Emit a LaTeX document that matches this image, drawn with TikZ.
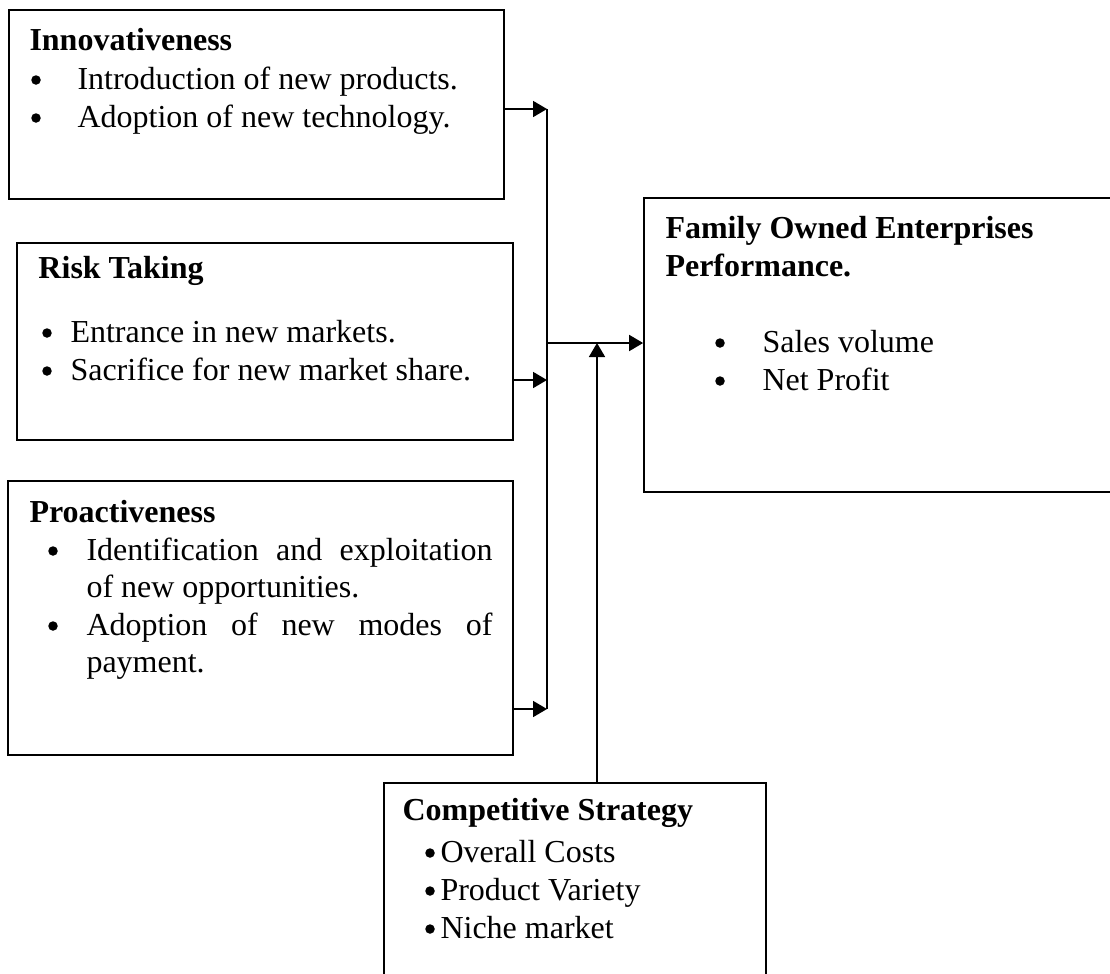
\documentclass[tikz,border=0pt]{standalone}
\usepackage{fontspec}
\setmainfont{Liberation Serif}
\usetikzlibrary{arrows.meta,fit}

\newcommand{\figfont}{\fontsize{12.8pt}{15pt}\selectfont}

\tikzset{
  blk/.style={draw, line width=0.7pt, inner sep=0pt},
  hd/.style={anchor=base west, inner sep=0pt, font=\figfont\bfseries},
  txt/.style={anchor=base west, inner sep=0pt, font=\figfont},
  conn/.style={line width=0.7pt, -{Triangle[length=5.6pt,width=6.4pt]}},
}

\begin{document}
\begin{tikzpicture}[x=0.4pt, y=-0.4pt]
\clip (0,0) rectangle (1110,973);

% boxes
\node[blk, fit={(9,10) (504,199)}] (innov) {};
\node[blk, fit={(17,243) (513,440)}] (risk) {};
\node[blk, fit={(8,481) (513,755)}] (proact) {};
\node[blk, fit={(644,198) (1116,492)}] (perf) {};
\node[blk, fit={(384,783) (766,990)}] (comp) {};

% Innovativeness
\node[hd] (innovhd) at (29,50) {Innovativeness};
\node[txt] (innov1) at (77,89) {Introduction of new products.};
\node[txt] (innov2) at (77,127) {Adoption of new technology.};
\fill (36,80) circle (1.9pt);
\fill (36,118) circle (1.9pt);

% Risk Taking
\node[hd] (riskhd) at (38,278) {Risk Taking};
\node[txt] (risk1) at (70,342) {Entrance in new markets.};
\node[txt] (risk2) at (70,380) {Sacrifice for new market share.};
\fill (47,333) circle (1.9pt);
\fill (47,371) circle (1.9pt);

% Proactiveness
\node[hd] (prohd) at (29,522) {Proactiveness};
\node[txt] (pro1) at (86,560) {\makebox[162.4pt][s]{Identification and exploitation}};
\node[txt] (pro2) at (86,597) {of new opportunities.};
\node[txt] (pro3) at (86,635) {\makebox[162.4pt][s]{Adoption of new modes of}};
\node[txt] (pro4) at (86,672) {payment.};
\fill (53,551) circle (1.9pt);
\fill (53,626) circle (1.9pt);

% performance
\node[hd] (perfhd1) at (665,238) {Family Owned Enterprises};
\node[hd] (perfhd2) at (665,276) {Performance.};
\node[txt] (perf1) at (762,352) {Sales volume};
\node[txt] (perf2) at (762,390) {Net Profit};
\fill (720,343) circle (1.9pt);
\fill (720,381) circle (1.9pt);

% competitive strategy
\node[hd] (comphd) at (402,820) {Competitive Strategy};
\node[txt] (comp1) at (440,862) {Overall Costs};
\node[txt] (comp2) at (440,900) {Product Variety};
\node[txt] (comp3) at (440,938) {Niche market};
\fill (430,853) circle (1.9pt);
\fill (430,891) circle (1.9pt);
\fill (430,929) circle (1.9pt);

% connectors
\coordinate (b1) at (547,109);
\coordinate (b2) at (547,380);
\coordinate (b3) at (547,709);
\coordinate (j) at (547,343);
\coordinate (up) at (597,343);

\draw[line width=0.7pt] (b1) -- (b3);
\draw[conn] (innov.east |- b1) -- (b1);
\draw[conn] (risk.east |- b2) -- (b2);
\draw[conn] (proact.east |- b3) -- (b3);
\draw[conn] (j) -- (perf.west |- j);
\draw[conn] (up |- comp.north) -- (up);
\end{tikzpicture}
\end{document}
